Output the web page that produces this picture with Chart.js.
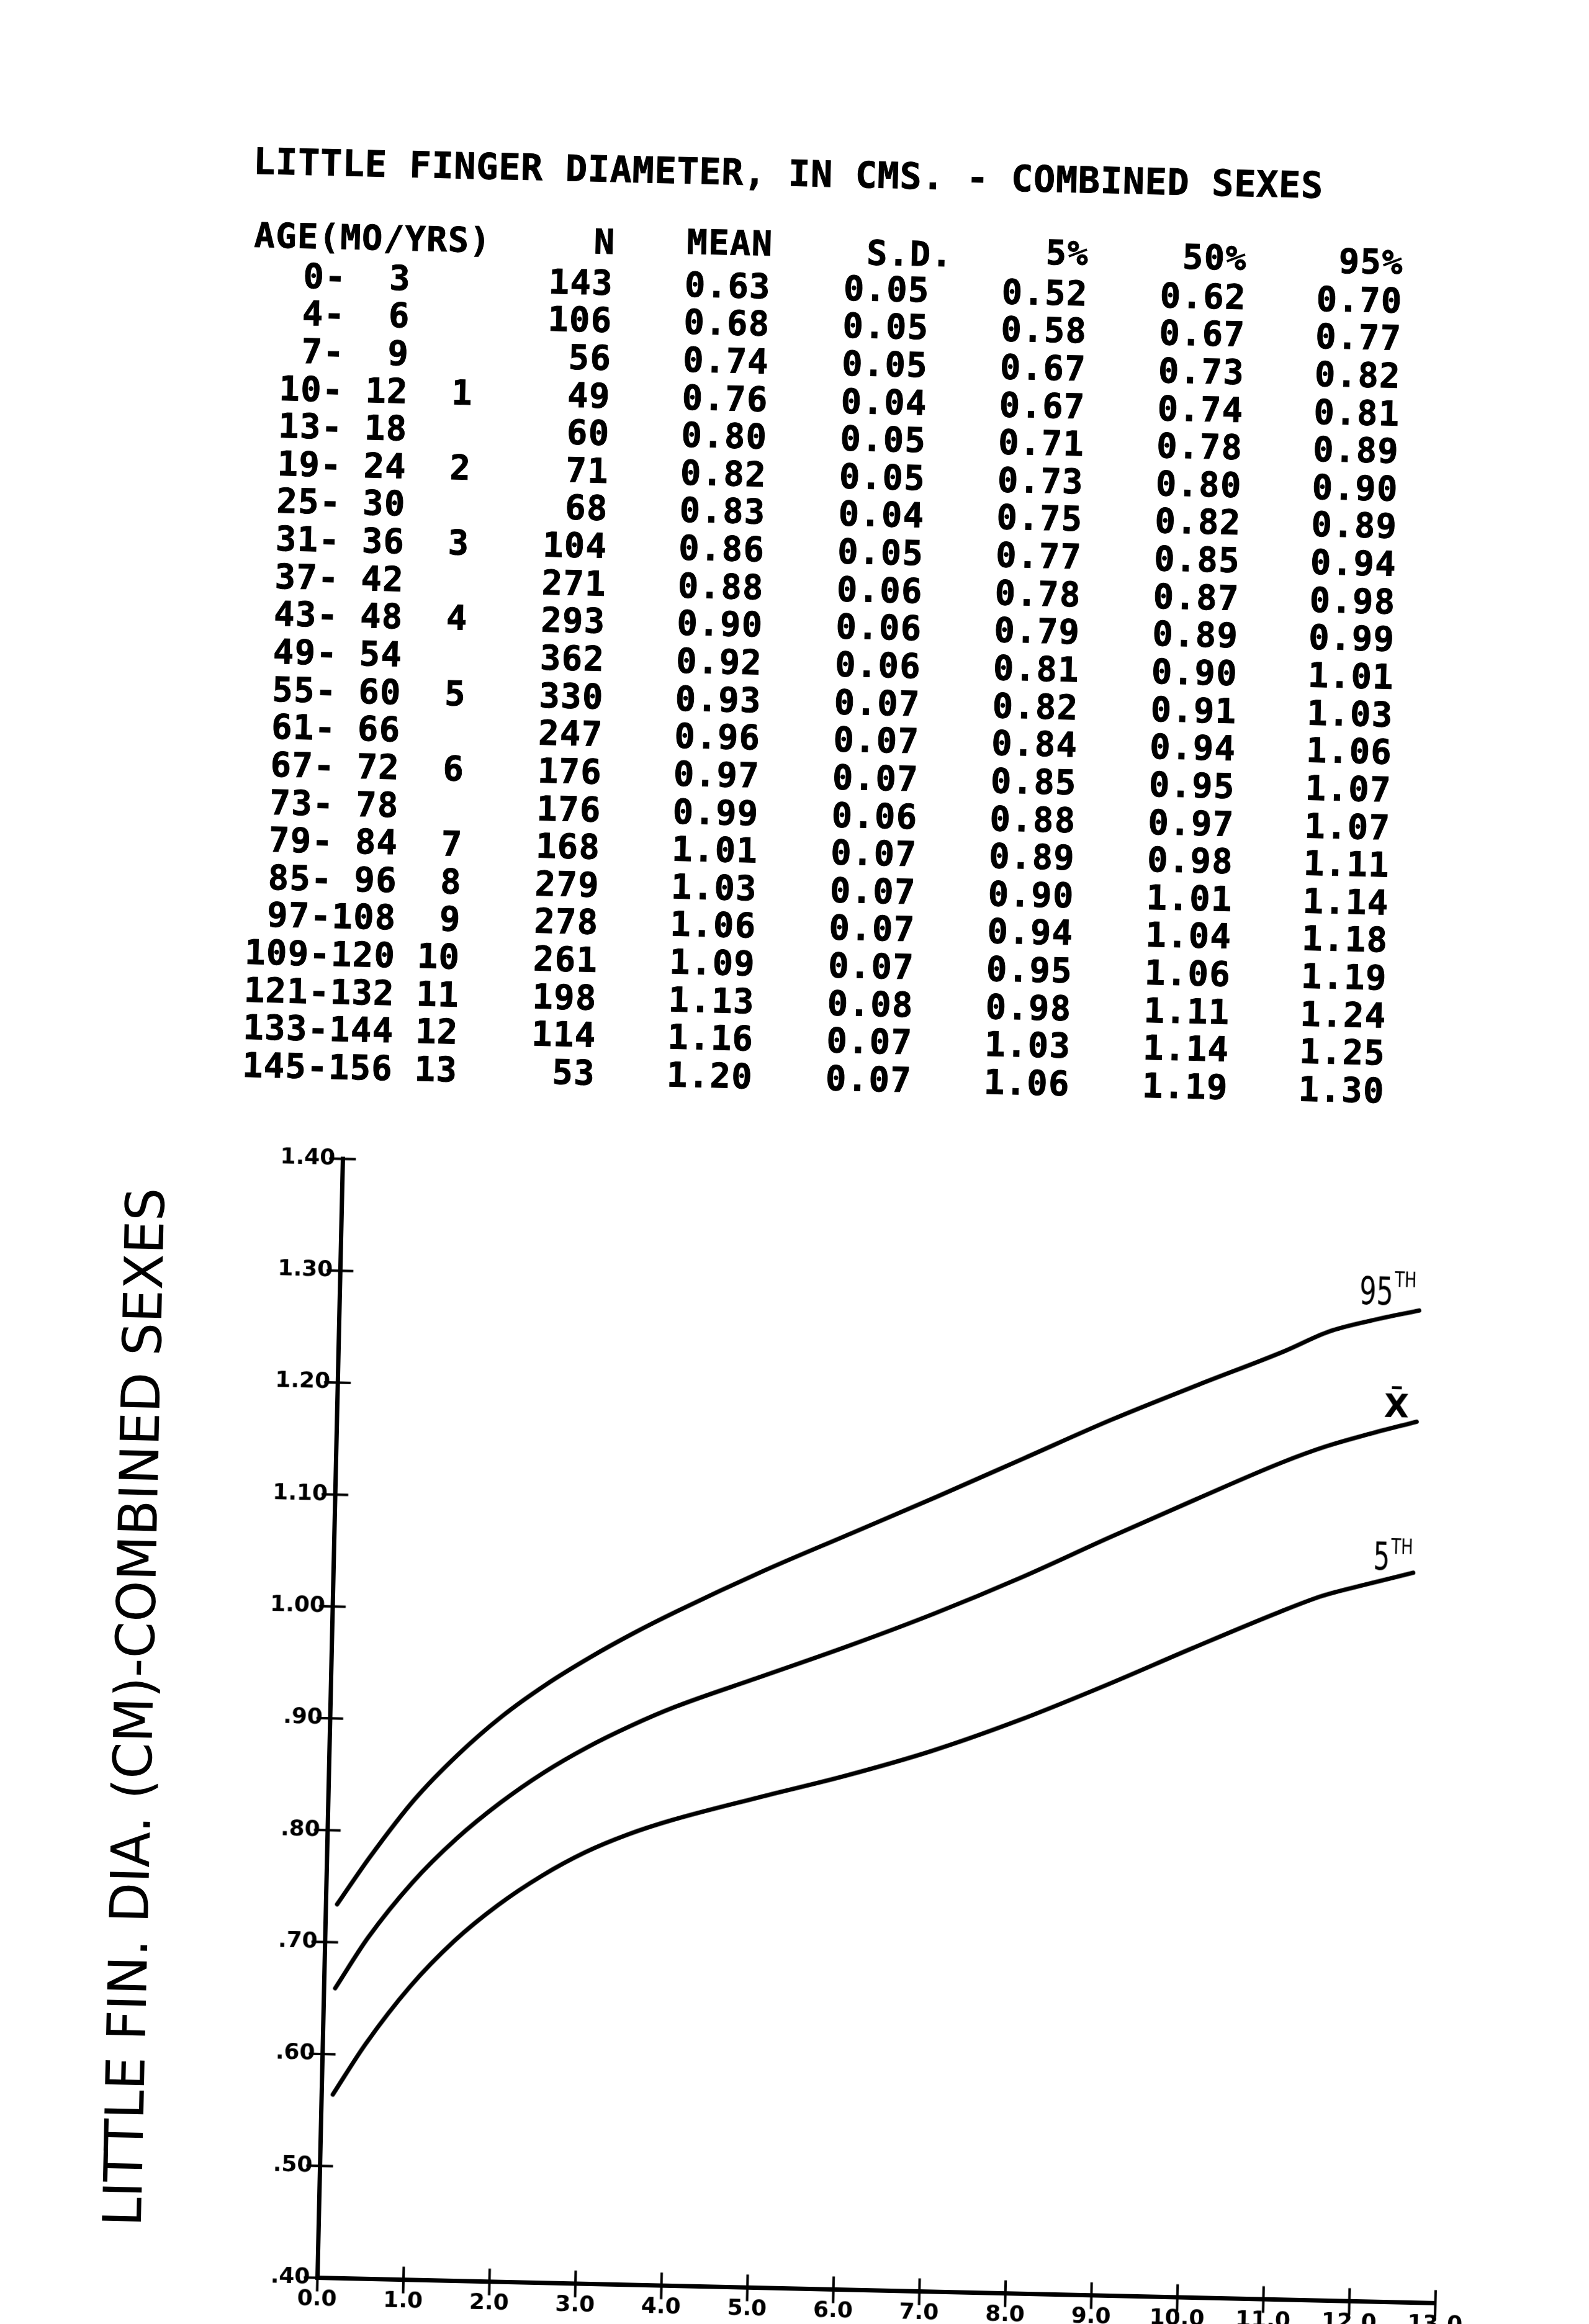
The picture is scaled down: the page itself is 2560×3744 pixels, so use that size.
<!DOCTYPE html>
<html lang="en">
<head>
<meta charset="utf-8">
<title>Little finger diameter - combined sexes</title>
<script src="https://cdn.jsdelivr.net/npm/chart.js@4.4.1/dist/chart.umd.min.js"></script>
<style>
    html, body { margin: 0; padding: 0; background: #ffffff; }
    body { width: 2560px; height: 3744px; overflow: hidden; position: relative; }
    /* the scanned sheet sits a little askew, so the whole page is turned with it */
    #page {
        position: absolute; left: 0; top: 0; width: 2560px; height: 3744px;
        transform-origin: 1280px 1872px; transform: rotate(1.3deg);
    }
    .txt {
        position: absolute; white-space: pre; color: #000;
        font-family: "DejaVu Sans Mono", monospace; font-weight: bold;
        -webkit-text-stroke: 1px #000;
    }
    #yTitle {
        position: absolute; left: 236px; top: 2774px; white-space: pre; color: #000;
        font-family: "DejaVu Sans", sans-serif; font-size: 86px; line-height: 86px;
    }
    #chart { position: absolute; left: 400px; top: 1800px; }
</style>
</head>
<body>
<div id="page">
    <div id="table"></div>
    <div id="yTitle">LITTLE FIN. DIA. (CM)-COMBINED SEXES</div>
    <canvas id="chart" width="2100" height="2000"></canvas>
</div>
<script>
// ---- table printed above the plot ----
const tableTitle = 'LITTLE FINGER DIAMETER, IN CMS. - COMBINED SEXES';
const ageFrom = ['0', '4', '7', '10', '13', '19', '25', '31', '37', '43', '49', '55', '61', '67', '73', '79', '85', '97', '109', '121', '133', '145'];
const ageTo = ['3', '6', '9', '12', '18', '24', '30', '36', '42', '48', '54', '60', '66', '72', '78', '84', '96', '108', '120', '132', '144', '156'];
const ageYrs = ['', '', '', '1', '', '2', '', '3', '', '4', '', '5', '', '6', '', '7', '8', '9', '10', '11', '12', '13'];
const nCount = [143, 106, 56, 49, 60, 71, 68, 104, 271, 293, 362, 330, 247, 176, 176, 168, 279, 278, 261, 198, 114, 53];
const meanValues = [0.63, 0.68, 0.74, 0.76, 0.80, 0.82, 0.83, 0.86, 0.88, 0.90, 0.92, 0.93, 0.96, 0.97, 0.99, 1.01, 1.03, 1.06, 1.09, 1.13, 1.16, 1.20];
const sdValues = [0.05, 0.05, 0.05, 0.04, 0.05, 0.05, 0.04, 0.05, 0.06, 0.06, 0.06, 0.07, 0.07, 0.07, 0.06, 0.07, 0.07, 0.07, 0.07, 0.08, 0.07, 0.07];
const p5Values = [0.52, 0.58, 0.67, 0.67, 0.71, 0.73, 0.75, 0.77, 0.78, 0.79, 0.81, 0.82, 0.84, 0.85, 0.88, 0.89, 0.90, 0.94, 0.95, 0.98, 1.03, 1.06];
const p50Values = [0.62, 0.67, 0.73, 0.74, 0.78, 0.80, 0.82, 0.85, 0.87, 0.89, 0.90, 0.91, 0.94, 0.95, 0.97, 0.98, 1.01, 1.04, 1.06, 1.11, 1.14, 1.19];
const p95Values = [0.70, 0.77, 0.82, 0.81, 0.89, 0.90, 0.89, 0.94, 0.98, 0.99, 1.01, 1.03, 1.06, 1.07, 1.07, 1.11, 1.14, 1.18, 1.19, 1.24, 1.25, 1.30];

// ---- smoothed curves (age in years) ----
const ageYears = [0.13, 0.5, 1.0, 1.5, 2.0, 2.5, 3.0, 3.5, 4.0, 5.0, 6.0, 7.0, 8.0, 9.0, 10.0, 11.0, 11.5, 12.0, 12.55];
const p95Curve = [0.734, 0.777, 0.829, 0.8705, 0.9055, 0.9345, 0.9595, 0.982, 1.0025, 1.0405, 1.0755, 1.1105, 1.1465, 1.1825, 1.2155, 1.2475, 1.2655, 1.2765, 1.2864];
const meanCurve = [0.659, 0.705, 0.755, 0.795, 0.828, 0.856, 0.8795, 0.8995, 0.917, 0.946, 0.975, 1.006, 1.040, 1.077, 1.113, 1.148, 1.163, 1.175, 1.187];
const p5Curve = [0.564, 0.610, 0.662, 0.7035, 0.7365, 0.7635, 0.7855, 0.8025, 0.816, 0.838, 0.859, 0.883, 0.912, 0.945, 0.980, 1.014, 1.0295, 1.0405, 1.052];
const curveLabels = ['95', 'X\u0304', '5'];
const curveSuffix = ['TH', '', 'TH'];

// ---- print the table ----
const tableBox = document.getElementById('table');

const putText = (text, x, y, size, align, spacing) => {
    const el = document.createElement('div');
    el.className = 'txt';
    el.textContent = text;
    el.style.fontSize = size + 'px';
    el.style.lineHeight = size + 'px';
    el.style.letterSpacing = spacing + 'px';
    el.style.top = (y - 0.48 * size) + 'px';

    if (align === 'right') {
        el.style.left = (x - 600) + 'px';
        el.style.width = '600px';
        el.style.textAlign = 'right';
    } else {
        el.style.left = x + 'px';
    }

    tableBox.appendChild(el);
};

const cellSize = 55;
const cellSpacing = 1.6;

putText(tableTitle, 372, 279, 58, 'left', 1.0);

putText('AGE(MO/YRS)', 376, 398, cellSize, 'left', cellSpacing);
putText('N', 958, 396, cellSize, 'right', cellSpacing);
putText('MEAN', 1212, 393, cellSize, 'right', cellSpacing);
putText('S.D.', 1502, 404, cellSize, 'right', cellSpacing);
putText('5%', 1721, 397, cellSize, 'right', cellSpacing);
putText('50%', 1976, 399, cellSize, 'right', cellSpacing);
putText('95%', 2228, 400, cellSize, 'right', cellSpacing);

const fmt = (v) => v.toFixed(2);

ageFrom.forEach((from, i) => {
    const rowY = 462 + i * 60.64;
    const age = `${from.padStart(3)}-${ageTo[i].padStart(3)} ${ageYrs[i].padStart(2)}`;

    putText(age, 387, rowY, cellSize, 'left', cellSpacing);
    putText(String(nCount[i]), 956, rowY, cellSize, 'right', cellSpacing);
    putText(fmt(meanValues[i]), 1210, rowY, cellSize, 'right', cellSpacing);
    putText(fmt(sdValues[i]), 1466, rowY, cellSize, 'right', cellSpacing);
    putText(fmt(p5Values[i]), 1721, rowY, cellSize, 'right', cellSpacing);
    putText(fmt(p50Values[i]), 1976, rowY, cellSize, 'right', cellSpacing);
    putText(fmt(p95Values[i]), 2228, rowY, cellSize, 'right', cellSpacing);
});

// vertical axis title, squeezed to the lettering's length
const yTitle = document.getElementById('yTitle');
const titleScale = 1674 / yTitle.offsetWidth;
yTitle.style.transform = `translate(-50%, -50%) rotate(-90deg) scaleX(${titleScale})`;

// ---- chart ----
const crossTicks = {
    id: 'crossTicks',

    afterDraw(chart) {
        const { ctx, scales: { x, y } } = chart;
        const axisX = x.getPixelForValue(0);
        const axisY = y.getPixelForValue(0.4);

        ctx.save();
        ctx.strokeStyle = '#000';
        ctx.lineWidth = 4;
        ctx.lineCap = 'butt';

        y.ticks.forEach((tick) => {
            const py = y.getPixelForValue(tick.value);
            ctx.beginPath();
            ctx.moveTo(axisX - 22, py);
            ctx.lineTo(axisX + 21, py);
            ctx.stroke();
        });

        x.ticks.forEach((tick) => {
            const px = x.getPixelForValue(tick.value);
            ctx.beginPath();
            ctx.moveTo(px, axisY - 21);
            ctx.lineTo(px, axisY + 22);
            ctx.stroke();
        });

        ctx.restore();
    },
};

// where each hand-lettered curve name sits against the end of its curve
const labelPlacement = [
    { right: -5, base: -8.5, supBase: -37.6, size: 63, squeeze: 0.68, bold: false },
    { right: -13, base: -7, supBase: 0, size: 52, squeeze: 1.0, bold: true },
    { right: -1, base: -4.3, supBase: -30, size: 63, squeeze: 0.66, bold: false },
];

const endLabels = {
    id: 'endLabels',

    afterDatasetsDraw(chart) {
        const { ctx } = chart;

        chart.data.datasets.forEach((dataset, i) => {
            const points = chart.getDatasetMeta(i).data;
            const end = points[points.length - 1];
            const place = labelPlacement[i];

            ctx.save();
            ctx.fillStyle = '#000';
            ctx.textAlign = 'left';
            ctx.textBaseline = 'alphabetic';

            let right = end.x + place.right;

            if (curveSuffix[i]) {
                ctx.font = '34px "DejaVu Sans"';
                const supWidth = ctx.measureText(curveSuffix[i]).width * 0.76;
                ctx.save();
                ctx.translate(right - supWidth, end.y + place.supBase);
                ctx.scale(0.76, 1);
                ctx.fillText(curveSuffix[i], 0, 0);
                ctx.restore();
                right -= supWidth + 2;
            }

            ctx.font = `${place.bold ? 'bold ' : ''}${place.size}px "DejaVu Sans"`;
            const mainWidth = ctx.measureText(curveLabels[i]).width * place.squeeze;
            ctx.translate(right - mainWidth, end.y + place.base);
            ctx.scale(place.squeeze, 1);
            ctx.fillText(curveLabels[i], 0, 0);
            ctx.restore();
        });
    },
};

const toPoints = (values) => ageYears.map((age, i) => ({ x: age, y: values[i] }));

const curveStyle = {
    borderColor: '#000',
    borderWidth: 7,
    pointRadius: 0,
    fill: false,
    cubicInterpolationMode: 'monotone',
    borderCapStyle: 'round',
};

const tickFont = { family: '"DejaVu Sans"', weight: 'bold', size: 36 };

new Chart(document.getElementById('chart'), {
    type: 'line',

    data: {
        datasets: [
            { label: '95th', data: toPoints(p95Curve), ...curveStyle },
            { label: 'Mean', data: toPoints(meanCurve), ...curveStyle },
            { label: '5th', data: toPoints(p5Curve), ...curveStyle },
        ],
    },

    options: {
        responsive: false,
        animation: false,

        layout: {
            padding: { left: 0, top: 83.5, right: 146.1, bottom: 0 },
        },

        plugins: {
            legend: { display: false },
            tooltip: { enabled: false },
        },

        scales: {
            x: {
                type: 'linear',
                min: 0,
                max: 13,

                afterFit(scale) {
                    scale.height = 113.5;
                },

                grid: { display: false, drawTicks: false },
                border: { display: true, color: '#000', width: 7 },

                ticks: {
                    stepSize: 1,
                    color: '#000',
                    font: tickFont,
                    padding: 14,
                    maxRotation: 0,
                    autoSkip: false,
                    callback: (value) => Number(value).toFixed(1),
                },
            },

            y: {
                type: 'linear',
                min: 0.4,
                max: 1.4,

                afterFit(scale) {
                    scale.width = 152.4;
                },

                grid: { display: false, drawTicks: false },
                border: { display: true, color: '#000', width: 7 },

                ticks: {
                    stepSize: 0.1,
                    color: '#000',
                    font: tickFont,
                    padding: 12,
                    autoSkip: false,
                    callback(value) {
                        const text = Number(value).toFixed(2);
                        return value < 1 ? text.slice(1) : text;
                    },
                },
            },
        },
    },

    plugins: [crossTicks, endLabels],
});
</script>
</body>
</html>
